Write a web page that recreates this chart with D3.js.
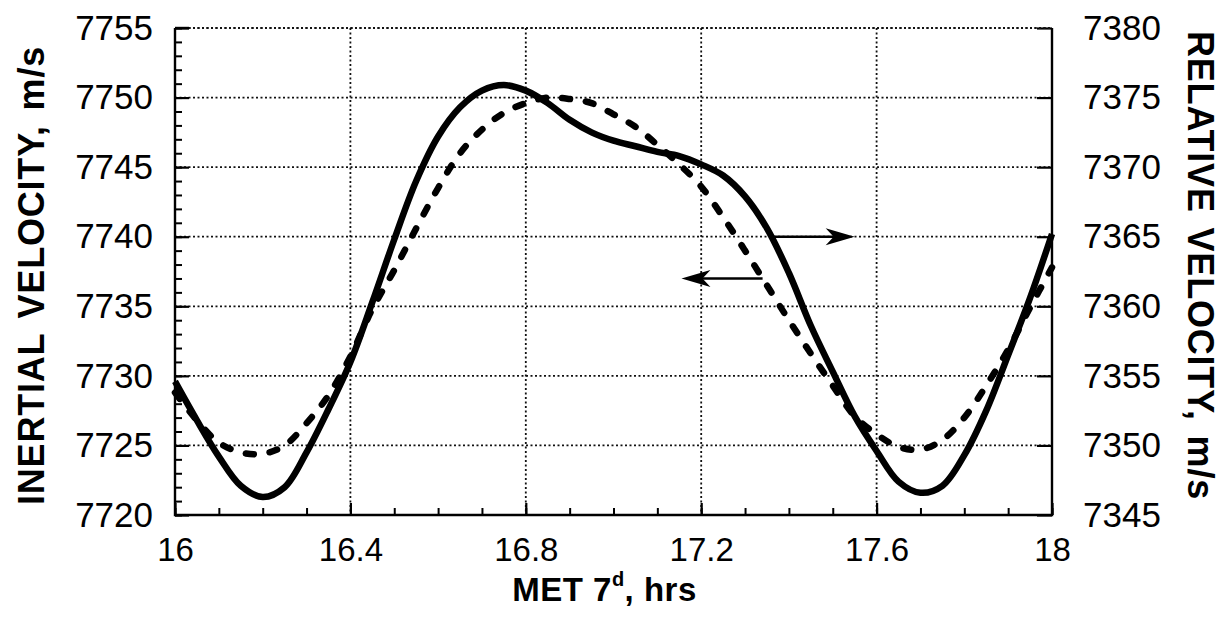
<!DOCTYPE html>
<html><head><meta charset="utf-8">
<script src="https://cdn.jsdelivr.net/npm/d3@7"></script>
<style>body{margin:0;background:#fff}svg{display:block}</style>
</head><body><svg id="c" width="1226" height="617"></svg>
<script>
// ---- data ----
const hours = [16.00,16.05,16.10,16.15,16.20,16.25,16.30,16.35,16.40,16.45,16.50,16.55,16.60,16.65,16.70,16.75,16.80,16.85,16.90,16.95,
               17.00,17.05,17.10,17.15,17.20,17.25,17.30,17.35,17.40,17.45,17.50,17.55,17.60,17.65,17.70,17.75,17.80,17.85,17.90,17.95,18.00];
// dashed curve, left axis
const inertialVelocity = [7728.8,7726.8,7725.2,7724.5,7724.4,7725.0,7726.6,7728.6,7731.4,7734.8,7737.6,7740.6,7743.5,7746.0,7747.7,7748.9,7749.6,7750.0,7749.9,7749.6,
                          7748.8,7747.9,7746.6,7745.2,7743.6,7741.4,7739.0,7736.5,7734.0,7731.6,7729.3,7727.1,7725.8,7724.9,7724.7,7725.4,7727.0,7729.3,7731.9,7734.9,7737.8];
// solid curve, right axis
const relativeVelocity = [7354.6,7351.8,7349.2,7347.1,7346.3,7347.0,7349.5,7352.6,7356.0,7360.3,7364.8,7369.0,7372.2,7374.3,7375.5,7375.9,7375.5,7374.6,7373.4,7372.5,
                          7371.9,7371.5,7371.1,7370.8,7370.2,7369.4,7367.9,7365.6,7362.4,7358.6,7355.3,7352.1,7349.6,7347.4,7346.6,7347.1,7349.3,7352.5,7356.5,7360.6,7365.2];
const xTicks = [16,16.4,16.8,17.2,17.6,18];
const xTickLabels = ["16","16.4","16.8","17.2","17.6","18"];
const leftTicks = [7720,7725,7730,7735,7740,7745,7750,7755];
const rightTicks = [7345,7350,7355,7360,7365,7370,7375,7380];
// annotation arrows: [value on left axis, start hour, end (tip) hour]
const arrowRight = [7740, 17.36, 17.55];
const arrowLeft  = [7737.0, 17.34, 17.155];

// ---- chart ----
const W = 1226, H = 617;
const m = {l:175, r:174, t:28, b:102};
const iw = W - m.l - m.r, ih = H - m.t - m.b;
const svg = d3.select("#c");
const g = svg.append("g").attr("transform", `translate(${m.l},${m.t})`);
const FONT = "'Liberation Sans', Arial, Helvetica, sans-serif";

const x = d3.scaleLinear().domain([16,18]).range([0, iw]);
const yL = d3.scaleLinear().domain([7720,7755]).range([ih, 0]);
const yR = d3.scaleLinear().domain([7345,7380]).range([ih, 0]);

// grid
const dot = "2 2.5";
g.append("g").selectAll("line").data(leftTicks.slice(1)).join("line")
  .attr("x1",0).attr("x2",iw).attr("y1",d=>yL(d)).attr("y2",d=>yL(d))
  .attr("stroke","#111").attr("stroke-width",1.8).attr("stroke-dasharray",dot);
g.append("g").selectAll("line").data(xTicks.slice(1,-1)).join("line")
  .attr("y1",0).attr("y2",ih).attr("x1",d=>x(d)).attr("x2",d=>x(d))
  .attr("stroke","#111").attr("stroke-width",1.8).attr("stroke-dasharray",dot);

// left axis (major + minor ticks inward)
const leftMinor = d3.range(7720,7756,1);
const axL = g.append("g").call(d3.axisLeft(yL).tickValues(leftMinor).tickSize(-7).tickFormat(""));
axL.select(".domain").remove();
axL.selectAll("line").attr("stroke","#000").attr("stroke-width",2);
const axL2 = g.append("g").call(d3.axisLeft(yL).tickValues(leftTicks).tickSize(-14).tickPadding(22).tickFormat(d3.format("d")));
axL2.select(".domain").remove();
axL2.selectAll("line").attr("stroke","#000").attr("stroke-width",2.2);
axL2.selectAll("text").attr("font-family",FONT).attr("font-size",35).attr("fill","#000");

// right axis
const axR = g.append("g").attr("transform",`translate(${iw},0)`)
  .call(d3.axisRight(yR).tickValues(rightTicks).tickSize(-15).tickPadding(31).tickFormat(d3.format("d")));
axR.select(".domain").remove();
axR.selectAll("line").attr("stroke","#000").attr("stroke-width",2.2);
axR.selectAll("text").attr("font-family",FONT).attr("font-size",35).attr("fill","#000");

// bottom axis
const xMinor = d3.range(0,21).map(i=>16+i*0.1);
const axB = g.append("g").attr("transform",`translate(0,${ih})`)
  .call(d3.axisBottom(x).tickValues(xMinor).tickSize(-7).tickFormat(""));
axB.select(".domain").remove();
axB.selectAll("line").attr("stroke","#000").attr("stroke-width",2);
const axB2 = g.append("g").attr("transform",`translate(0,${ih})`)
  .call(d3.axisBottom(x).tickValues(xTicks).tickSize(-12).tickPadding(23).tickFormat((d,i)=>xTickLabels[i]));
axB2.select(".domain").remove();
axB2.selectAll("line").attr("stroke","#000").attr("stroke-width",2.2);
axB2.selectAll("text").attr("font-family",FONT).attr("font-size",33).attr("fill","#000");

// frame: left, bottom, right solid; top dotted
g.append("path").attr("d",`M0,0 V${ih} H${iw} V0`).attr("fill","none").attr("stroke","#000").attr("stroke-width",2.4);
g.append("line").attr("x1",0).attr("x2",iw).attr("y1",0).attr("y2",0)
  .attr("stroke","#111").attr("stroke-width",1.8).attr("stroke-dasharray",dot);
g.append("line").attr("x1",0).attr("x2",14).attr("y1",0).attr("y2",0).attr("stroke","#000").attr("stroke-width",2.4);

// curves
const lineL = d3.line().x((d,i)=>x(hours[i])).y(d=>yL(d)).curve(d3.curveCatmullRom.alpha(0.5));
const lineR = d3.line().x((d,i)=>x(hours[i])).y(d=>yR(d)).curve(d3.curveCatmullRom.alpha(0.5));
g.append("path").datum(inertialVelocity).attr("d",lineL).attr("fill","none")
  .attr("stroke","#000").attr("stroke-width",6.5).attr("stroke-linecap","round").attr("stroke-dasharray","8 16");
g.append("path").datum(relativeVelocity).attr("d",lineR).attr("fill","none")
  .attr("stroke","#000").attr("stroke-width",6.5).attr("stroke-linejoin","round");

// arrows
function arrow(a){
  const y0 = yL(a[0]), x0 = x(a[1]), x1 = x(a[2]);
  const dir = Math.sign(x1-x0);
  g.append("line").attr("x1",x0).attr("x2",x1-dir*20).attr("y1",y0).attr("y2",y0)
    .attr("stroke","#000").attr("stroke-width",2.6);
  g.append("path").attr("transform",`translate(${x1},${y0}) scale(${dir},1)`)
    .attr("d","M0,0 L-29,-8.5 L-21,0 L-29,8.5 Z").attr("fill","#000");
}
arrow(arrowRight); arrow(arrowLeft);

// titles
svg.append("text").attr("transform",`translate(44,${m.t+ih/2+4}) rotate(-90)`)
  .attr("text-anchor","middle").attr("font-family",FONT).attr("font-weight","bold")
  .attr("font-size",36).attr("letter-spacing",0.8).attr("word-spacing",4).text("INERTIAL VELOCITY, m/s");
svg.append("text").attr("transform",`translate(1188,${m.t+ih/2-6}) rotate(90)`)
  .attr("text-anchor","middle").attr("font-family",FONT).attr("font-weight","bold")
  .attr("font-size",36).attr("letter-spacing",0.8).attr("word-spacing",4).text("RELATIVE VELOCITY, m/s");
const xt = svg.append("text").attr("x",m.l+iw/2-9).attr("y",601).attr("text-anchor","middle")
  .attr("font-family",FONT).attr("font-weight","bold").attr("font-size",33).attr("letter-spacing",0.5);
xt.append("tspan").text("MET 7");
xt.append("tspan").attr("font-size",20).attr("dy",-15).text("d");
xt.append("tspan").attr("dy",15).text(", hrs");
</script></body></html>
